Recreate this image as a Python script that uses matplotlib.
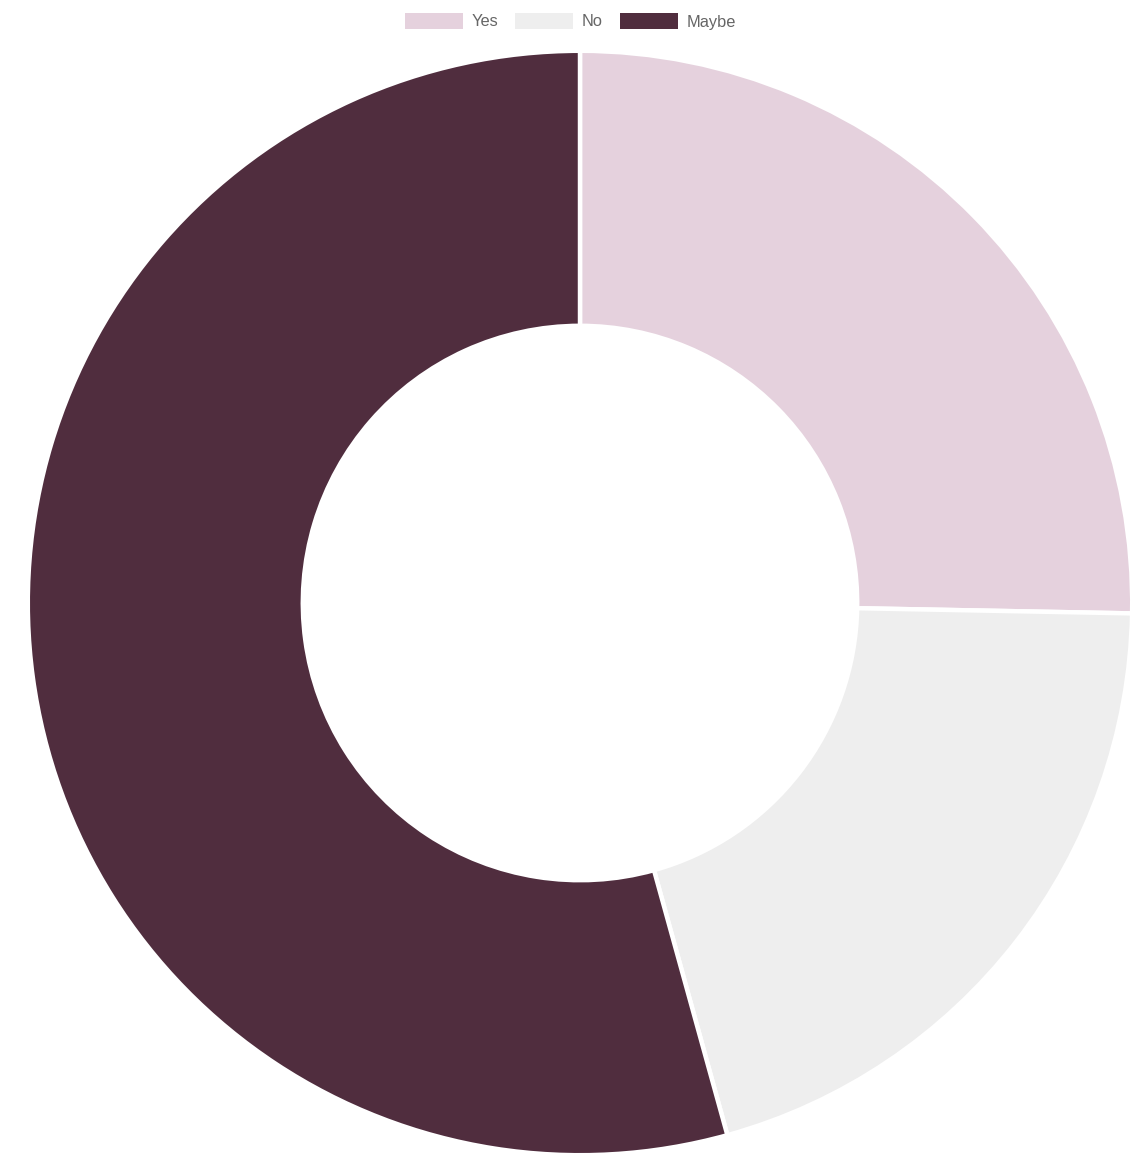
import matplotlib.pyplot as plt
from matplotlib.patches import Rectangle

W, H = 1138, 1162

categories = ["Yes", "No", "Maybe"]
values = [25.3, 20.4, 54.3]
colors = ["#e5d1dd", "#eeeeee", "#502d3e"]

fig = plt.figure(figsize=(W / 100, H / 100), dpi=100)
fig.patch.set_facecolor("white")

# ring: centre (580, 603) px, outer radius 550 px
ax = fig.add_axes([30 / W, (H - 1153) / H, 1100 / W, 1100 / H])
ax.pie(
    values,
    colors=colors,
    startangle=90,
    counterclock=False,
    radius=1.004,
    wedgeprops=dict(width=0.5, edgecolor="white", linewidth=3.2),
)
ax.set_xlim(-1, 1)
ax.set_ylim(-1, 1)
ax.set_aspect("equal")
ax.axis("off")

# legend across the top, drawn like the chart.js one
box_x = [405, 515, 620]
for x, label, color in zip(box_x, categories, colors):
    fig.patches.append(
        Rectangle((x / W, 1 - 29 / H), 58 / W, 16 / H, transform=fig.transFigure,
                  facecolor=color, edgecolor="none")
    )
    fig.text((x + 67) / W, 1 - 22 / H, label, fontsize=11.8, color="#666666",
             family="Liberation Sans", va="center", ha="left")

fig.savefig("out.png", dpi=100)
